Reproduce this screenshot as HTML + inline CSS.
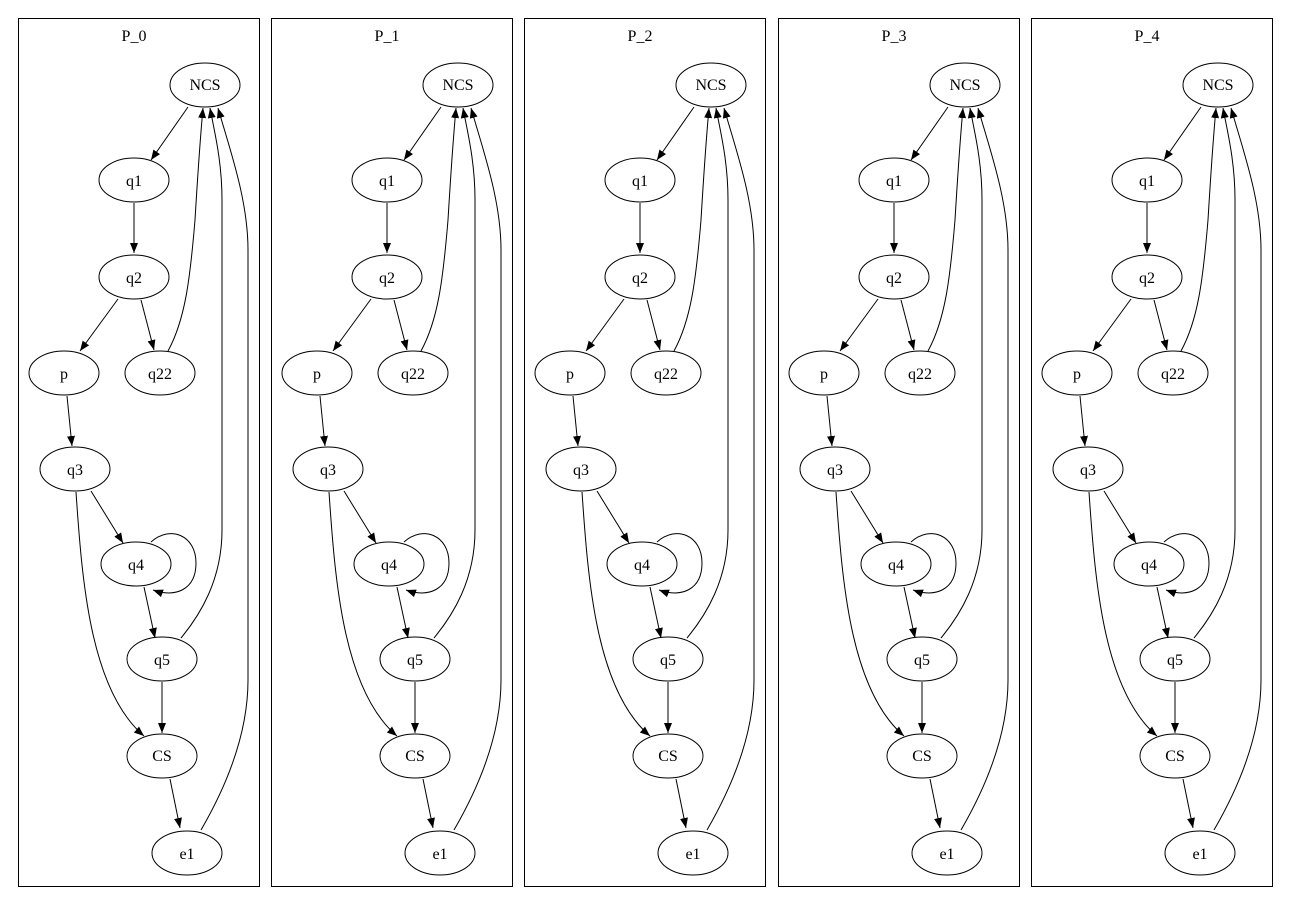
<!DOCTYPE html>
<html><head><meta charset="utf-8"><style>
html,body{margin:0;padding:0;background:#fff;}
svg{display:block;}
text{font-family:"Liberation Serif",serif;font-size:16px;fill:#000;}
</style></head><body>
<svg width="1291" height="915" viewBox="0 0 1291 915" xmlns="http://www.w3.org/2000/svg">
<defs>
<marker id="a" markerWidth="10" markerHeight="8" refX="10" refY="4" orient="auto" markerUnits="userSpaceOnUse">
<path d="M0,0 L10,4 L0,8 Z" fill="#000"/>
</marker>
<g id="c">
<rect x="18.5" y="18.5" width="241" height="868" fill="none" stroke="#000" stroke-width="1"/>
<text x="134" y="41" text-anchor="middle">P_0</text>
<g fill="none" stroke="#000" stroke-width="1">
<ellipse cx="205" cy="85" rx="35" ry="22"/>
<ellipse cx="134" cy="180" rx="35" ry="22"/>
<ellipse cx="134" cy="277" rx="35" ry="22"/>
<ellipse cx="64" cy="373" rx="35" ry="22"/>
<ellipse cx="160" cy="373" rx="35" ry="22"/>
<ellipse cx="75" cy="469" rx="35" ry="22"/>
<ellipse cx="136" cy="564" rx="35" ry="22"/>
<ellipse cx="162" cy="659" rx="35" ry="22"/>
<ellipse cx="162" cy="756" rx="35" ry="22"/>
<ellipse cx="187" cy="853" rx="35" ry="22"/>
<g marker-end="url(#a)">
<path d="M188,107 L151,160"/>
<path d="M134,203 L134,253"/>
<path d="M118,299 L80,351"/>
<path d="M141,300 L154,350"/>
<path d="M67,396 L72,446"/>
<path d="M168,351 C185,320 190,280 195,220 C198,170 201,130 203,108"/>
<path d="M181,638 C200,615 222,580 222,530 L222,200 C222,160 214,130 210,108"/>
<path d="M201,830 C230,780 248,730 248,680 L248,250 C248,200 230,150 218,108"/>
<path d="M76,492 C82,580 90,690 144,736"/>
<path d="M91,491 L123,543"/>
<path d="M151,542 C170,525 196,535 196,563 C196,590 175,598 153,590"/>
<path d="M144,587 L155,638"/>
<path d="M162,682 L162,733"/>
<path d="M170,779 L180,828"/>
</g>
</g>
<g text-anchor="middle">
<text x="205" y="90">NCS</text>
<text x="134" y="186">q1</text>
<text x="134" y="283">q2</text>
<text x="64" y="379">p</text>
<text x="160" y="379">q22</text>
<text x="75" y="475">q3</text>
<text x="136" y="570">q4</text>
<text x="162" y="665">q5</text>
<text x="162" y="761">CS</text>
<text x="187" y="859">e1</text>
</g>
</g>
</defs>
<use href="#c"/>
<g transform="translate(253,0)"><use href="#c"/><rect x="110" y="26" width="50" height="18" fill="#fff"/><text x="134" y="41" text-anchor="middle">P_1</text></g>
<g transform="translate(506,0)"><use href="#c"/><rect x="110" y="26" width="50" height="18" fill="#fff"/><text x="134" y="41" text-anchor="middle">P_2</text></g>
<g transform="translate(760,0)"><use href="#c"/><rect x="110" y="26" width="50" height="18" fill="#fff"/><text x="134" y="41" text-anchor="middle">P_3</text></g>
<g transform="translate(1013,0)"><use href="#c"/><rect x="110" y="26" width="50" height="18" fill="#fff"/><text x="134" y="41" text-anchor="middle">P_4</text></g>
</svg>
</body></html>
